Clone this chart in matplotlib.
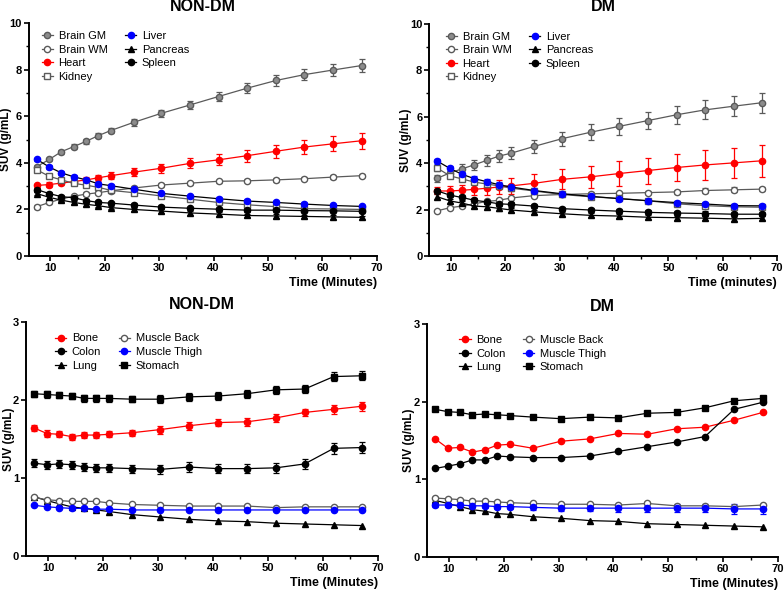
import matplotlib.pyplot as plt
from matplotlib.ticker import MultipleLocator

plt.rcParams['font.family'] = ['Liberation Sans', 'DejaVu Sans']

# Sampling times (minutes)
time = [7.5, 9.8, 12.0, 14.3, 16.6, 18.8, 21.1, 25.3, 30.4, 35.7, 40.9, 46.2, 51.5, 56.7, 62.0, 67.2]

# ---- Top left: NON-DM organs ----
nd_gm = [3.84, 4.15, 4.48, 4.70, 4.93, 5.17, 5.39, 5.74, 6.13, 6.49, 6.85, 7.21, 7.54, 7.79, 7.99, 8.18]
nd_gm_err = [0.08, 0.08, 0.09, 0.10, 0.11, 0.12, 0.12, 0.14, 0.15, 0.17, 0.18, 0.20, 0.22, 0.23, 0.24, 0.26]
nd_wm = [2.12, 2.30, 2.45, 2.57, 2.66, 2.72, 2.80, 2.92, 3.05, 3.13, 3.21, 3.23, 3.27, 3.32, 3.39, 3.45]
nd_heart = [3.03, 3.07, 3.13, 3.20, 3.27, 3.36, 3.45, 3.60, 3.77, 3.98, 4.13, 4.31, 4.50, 4.68, 4.82, 4.95]
nd_heart_err = [0.08, 0.09, 0.10, 0.11, 0.12, 0.14, 0.15, 0.17, 0.19, 0.22, 0.24, 0.26, 0.28, 0.30, 0.32, 0.34]
nd_kidney = [3.70, 3.42, 3.27, 3.12, 3.04, 2.95, 2.82, 2.72, 2.58, 2.44, 2.30, 2.20, 2.12, 2.03, 2.02, 2.00]
nd_liver = [4.15, 3.82, 3.57, 3.40, 3.27, 3.10, 3.02, 2.87, 2.69, 2.57, 2.46, 2.36, 2.30, 2.23, 2.17, 2.13]
nd_pancreas = [2.68, 2.52, 2.40, 2.30, 2.22, 2.16, 2.08, 2.00, 1.93, 1.85, 1.80, 1.74, 1.72, 1.70, 1.68, 1.66]
nd_spleen = [2.85, 2.68, 2.55, 2.50, 2.38, 2.30, 2.27, 2.19, 2.10, 2.05, 2.01, 1.97, 1.97, 1.95, 1.94, 1.92]
nd_small_err = [0.08, 0.07, 0.07, 0.07, 0.07, 0.07, 0.07, 0.07, 0.07, 0.07, 0.07, 0.07, 0.07, 0.07, 0.07, 0.07]

# ---- Top right: DM organs ----
d_gm = [3.35, 3.58, 3.75, 3.93, 4.12, 4.30, 4.43, 4.72, 5.05, 5.33, 5.58, 5.83, 6.08, 6.29, 6.45, 6.60]
d_gm_err = [0.15, 0.17, 0.20, 0.22, 0.24, 0.25, 0.27, 0.29, 0.31, 0.34, 0.36, 0.38, 0.39, 0.41, 0.42, 0.43]
d_wm = [1.95, 2.08, 2.15, 2.25, 2.35, 2.40, 2.50, 2.60, 2.65, 2.68, 2.70, 2.73, 2.76, 2.82, 2.85, 2.88]
d_wm_err = [0.04, 0.04, 0.05, 0.05, 0.05, 0.05, 0.06, 0.06, 0.07, 0.07, 0.07, 0.08, 0.09, 0.10, 0.10, 0.10]
d_heart = [2.80, 2.80, 2.83, 2.87, 2.92, 2.97, 3.02, 3.13, 3.30, 3.41, 3.55, 3.68, 3.81, 3.92, 4.01, 4.10]
d_heart_err = [0.15, 0.20, 0.23, 0.26, 0.28, 0.30, 0.33, 0.38, 0.43, 0.48, 0.52, 0.56, 0.60, 0.63, 0.66, 0.68]
d_kidney = [3.78, 3.45, 3.32, 3.18, 3.10, 3.02, 2.92, 2.80, 2.65, 2.55, 2.48, 2.38, 2.25, 2.17, 2.12, 2.10]
d_liver = [4.08, 3.77, 3.52, 3.33, 3.20, 3.07, 2.97, 2.82, 2.68, 2.57, 2.47, 2.38, 2.30, 2.24, 2.17, 2.16]
d_pancreas = [2.55, 2.37, 2.28, 2.15, 2.12, 2.05, 1.98, 1.90, 1.82, 1.75, 1.72, 1.67, 1.65, 1.63, 1.60, 1.62]
d_spleen = [2.80, 2.62, 2.52, 2.40, 2.33, 2.25, 2.22, 2.15, 2.04, 1.98, 1.93, 1.88, 1.85, 1.83, 1.80, 1.80]
d_small_err = [0.10, 0.10, 0.10, 0.10, 0.10, 0.10, 0.10, 0.09, 0.09, 0.09, 0.09, 0.09, 0.09, 0.09, 0.09, 0.09]

# ---- Bottom left: NON-DM tissues ----
nd_stomach = [2.08, 2.07, 2.06, 2.05, 2.02, 2.02, 2.02, 2.01, 2.01, 2.04, 2.05, 2.08, 2.13, 2.14, 2.30, 2.31]
nd_bone = [1.64, 1.57, 1.56, 1.53, 1.55, 1.55, 1.56, 1.58, 1.62, 1.67, 1.71, 1.72, 1.77, 1.84, 1.88, 1.92]
nd_colon = [1.19, 1.17, 1.18, 1.17, 1.14, 1.13, 1.13, 1.12, 1.11, 1.14, 1.12, 1.12, 1.13, 1.18, 1.38, 1.39]
nd_back = [0.75, 0.72, 0.71, 0.70, 0.70, 0.70, 0.68, 0.66, 0.65, 0.64, 0.64, 0.64, 0.62, 0.63, 0.63, 0.63]
nd_thigh = [0.65, 0.63, 0.62, 0.61, 0.61, 0.60, 0.60, 0.59, 0.59, 0.59, 0.59, 0.59, 0.59, 0.59, 0.59, 0.59]
nd_lung = [0.76, 0.71, 0.67, 0.63, 0.61, 0.59, 0.57, 0.53, 0.50, 0.47, 0.45, 0.44, 0.42, 0.41, 0.40, 0.39]
nd_tissue_err = [0.04, 0.04, 0.04, 0.04, 0.04, 0.04, 0.04, 0.04, 0.05, 0.05, 0.05, 0.05, 0.05, 0.05, 0.06, 0.06]
nd_colon_err = [0.05, 0.05, 0.05, 0.05, 0.05, 0.05, 0.05, 0.05, 0.06, 0.06, 0.06, 0.06, 0.06, 0.06, 0.07, 0.07]

# ---- Bottom right: DM tissues ----
d_stomach = [1.90, 1.87, 1.86, 1.83, 1.84, 1.83, 1.82, 1.80, 1.78, 1.80, 1.79, 1.85, 1.86, 1.92, 2.01, 2.04]
d_bone = [1.52, 1.40, 1.41, 1.35, 1.38, 1.44, 1.45, 1.40, 1.49, 1.52, 1.59, 1.58, 1.65, 1.67, 1.76, 1.86]
d_colon = [1.14, 1.17, 1.20, 1.25, 1.25, 1.30, 1.29, 1.28, 1.28, 1.30, 1.36, 1.42, 1.48, 1.55, 1.90, 1.99]
d_back = [0.76, 0.75, 0.74, 0.72, 0.72, 0.71, 0.70, 0.69, 0.68, 0.68, 0.67, 0.69, 0.66, 0.66, 0.65, 0.67]
d_thigh = [0.67, 0.67, 0.67, 0.66, 0.66, 0.65, 0.65, 0.64, 0.63, 0.63, 0.63, 0.63, 0.63, 0.63, 0.62, 0.62]
d_lung = [0.73, 0.69, 0.65, 0.61, 0.59, 0.56, 0.55, 0.52, 0.50, 0.47, 0.46, 0.43, 0.42, 0.41, 0.40, 0.39]
d_thigh_err = [0.02, 0.02, 0.02, 0.03, 0.03, 0.03, 0.03, 0.04, 0.04, 0.04, 0.05, 0.05, 0.05, 0.05, 0.06, 0.06]

fig = plt.figure(figsize=(7.84, 5.94), dpi=100)

ax_tl = fig.add_axes([0.0366, 0.569, 0.444, 0.392])
ax_tr = fig.add_axes([0.5476, 0.569, 0.4435, 0.391])
ax_bl = fig.add_axes([0.0332, 0.064, 0.4486, 0.394])
ax_br = fig.add_axes([0.5446, 0.062, 0.4477, 0.393])


def series(ax, y, err, label, marker, face, edge, line, ms=4.5):
    ax.errorbar(time, y, yerr=err, label=label, marker=marker, markersize=ms,
                markerfacecolor=face, markeredgecolor=edge, color=line,
                ecolor=edge, elinewidth=0.9, capsize=2.5, capthick=0.9,
                linewidth=0.9)


def style(ax, title, xlabel, ymax, major, minor, leg_x, leg_y, ylab_px):
    ax.set_xlim(6, 70)
    ax.set_ylim(0, ymax)
    ax.xaxis.set_major_locator(MultipleLocator(10))
    ax.xaxis.set_minor_locator(MultipleLocator(5))
    ax.set_xticks(range(10, 71, 10))
    ax.yaxis.set_major_locator(MultipleLocator(major))
    if minor:
        ax.yaxis.set_minor_locator(MultipleLocator(minor))
    for s in ['top', 'right']:
        ax.spines[s].set_visible(False)
    for s in ['left', 'bottom']:
        ax.spines[s].set_linewidth(1.4)
    ax.tick_params(which='major', length=3.5, width=1.2, labelsize=8, pad=1.5)
    ax.tick_params(which='minor', length=2.2, width=1.0)
    for lab in ax.get_xticklabels() + ax.get_yticklabels():
        lab.set_fontweight('bold')
    ax.set_title(title, fontsize=11.5, fontweight='bold', pad=9)
    ax.set_ylabel('SUV (g/mL)', fontsize=8.5, fontweight='bold')
    # place the y label a fixed number of pixels left of the axis
    width_px = ax.get_position().width * fig.get_figwidth() * fig.dpi
    ax.yaxis.set_label_coords(ylab_px / width_px, 0.5)
    ax.set_xlabel(xlabel, fontsize=9, fontweight='bold', loc='right', labelpad=3)
    handles = [c[0] for c in ax.containers]
    labels = [c.get_label() for c in ax.containers]
    ax.legend(handles, labels, loc='upper left', ncol=2, frameon=False,
              fontsize=8, handlelength=1.0, handletextpad=0.5,
              columnspacing=1.6, labelspacing=0.32,
              bbox_to_anchor=(leg_x, leg_y), borderaxespad=0)


grey = '#8c8c8c'
dark = '#5a5a5a'

# Top left
series(ax_tl, nd_gm, nd_gm_err, 'Brain GM', 'o', grey, dark, dark)
series(ax_tl, nd_wm, nd_small_err, 'Brain WM', 'o', 'white', dark, dark)
series(ax_tl, nd_heart, nd_heart_err, 'Heart', 'o', 'red', 'red', 'red')
series(ax_tl, nd_kidney, nd_small_err, 'Kidney', 's', 'white', dark, dark)
series(ax_tl, nd_liver, nd_small_err, 'Liver', 'o', 'blue', 'blue', 'black')
series(ax_tl, nd_pancreas, nd_small_err, 'Pancreas', '^', 'black', 'black', 'black')
series(ax_tl, nd_spleen, nd_small_err, 'Spleen', 'o', 'black', 'black', 'black')
style(ax_tl, 'NON-DM', 'Time (Minutes)', 10, 2, 1, 0.025, 0.985, -17)

# Top right
series(ax_tr, d_gm, d_gm_err, 'Brain GM', 'o', grey, dark, dark)
series(ax_tr, d_wm, d_wm_err, 'Brain WM', 'o', 'white', dark, dark)
series(ax_tr, d_heart, d_heart_err, 'Heart', 'o', 'red', 'red', 'red')
series(ax_tr, d_kidney, d_small_err, 'Kidney', 's', 'white', dark, dark)
series(ax_tr, d_liver, d_small_err, 'Liver', 'o', 'blue', 'blue', 'black')
series(ax_tr, d_pancreas, d_small_err, 'Pancreas', '^', 'black', 'black', 'black')
series(ax_tr, d_spleen, d_small_err, 'Spleen', 'o', 'black', 'black', 'black')
style(ax_tr, 'DM', 'Time (minutes)', 10, 2, 1, 0.035, 0.985, -17)

# Bottom left
series(ax_bl, nd_bone, nd_tissue_err, 'Bone', 'o', 'red', 'red', 'red')
series(ax_bl, nd_colon, nd_colon_err, 'Colon', 'o', 'black', 'black', 'black')
series(ax_bl, nd_lung, None, 'Lung', '^', 'black', 'black', 'black')
series(ax_bl, nd_back, None, 'Muscle Back', 'o', 'white', dark, dark)
series(ax_bl, nd_thigh, None, 'Muscle Thigh', 'o', 'blue', 'blue', 'blue')
series(ax_bl, nd_stomach, nd_tissue_err, 'Stomach', 's', 'black', 'black', 'black')
style(ax_bl, 'NON-DM', 'Time (Minutes)', 3, 1, None, 0.07, 0.97, -11)

# Bottom right
series(ax_br, d_bone, None, 'Bone', 'o', 'red', 'red', 'red')
series(ax_br, d_colon, None, 'Colon', 'o', 'black', 'black', 'black')
series(ax_br, d_lung, None, 'Lung', '^', 'black', 'black', 'black')
series(ax_br, d_back, None, 'Muscle Back', 'o', 'white', dark, dark)
series(ax_br, d_thigh, d_thigh_err, 'Muscle Thigh', 'o', 'blue', 'blue', 'blue')
series(ax_br, d_stomach, None, 'Stomach', 's', 'black', 'black', 'black')
style(ax_br, 'DM', 'Time (Minutes)', 3, 1, None, 0.08, 0.97, -12)

fig.savefig('out.png', dpi=100)
